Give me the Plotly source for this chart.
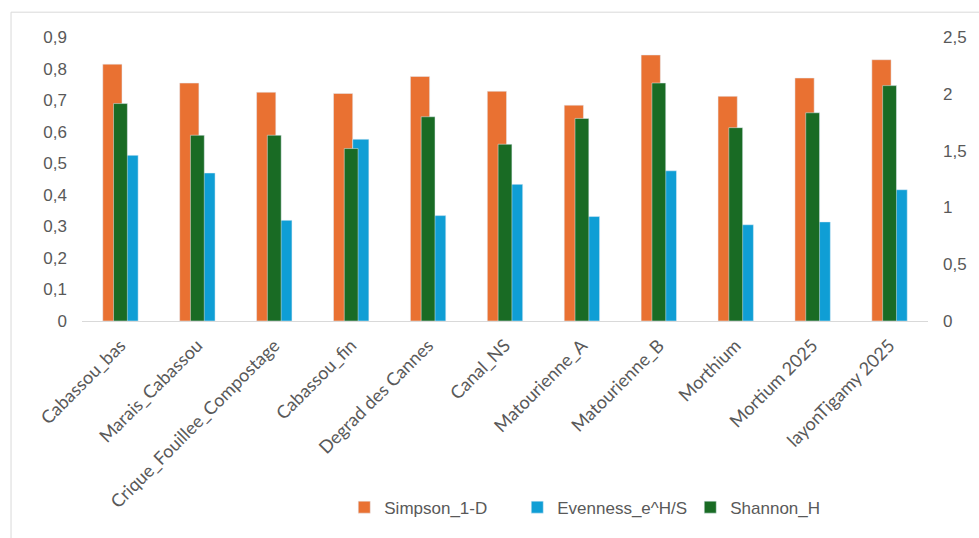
import plotly.graph_objects as go

categories = ["Cabassou_bas", "Marais_Cabassou", "Crique_Fouillee_Compostage", "Cabassou_fin",
              "Degrad des Cannes", "Canal_NS", "Matourienne_A", "Matourienne_B", "Morthium",
              "Mortium 2025", "layonTigamy 2025"]
simpson = [0.814, 0.754, 0.725, 0.721, 0.775, 0.728, 0.684, 0.843, 0.712, 0.770, 0.828]
evenness = [0.525, 0.469, 0.319, 0.576, 0.334, 0.433, 0.331, 0.476, 0.305, 0.314, 0.416]
shannon = [1.914, 1.635, 1.635, 1.518, 1.798, 1.556, 1.783, 2.095, 1.702, 1.833, 2.072]

ORANGE = "#E97132"
BLUE = "#0F9ED5"
GREEN = "#196B24"
GRAY = "#595959"

fig = go.Figure()
fig.add_trace(go.Bar(x=categories, y=simpson, name="Simpson_1-D", marker_color=ORANGE,
                     offset=-0.23, width=0.25, yaxis="y"))
fig.add_trace(go.Bar(x=categories, y=evenness, name="Evenness_e^H/S", marker_color=BLUE,
                     offset=0.02, width=0.21, yaxis="y"))
fig.add_trace(go.Bar(x=categories, y=shannon, name="Shannon_H", marker_color=GREEN,
                     offset=-0.09, width=0.18, yaxis="y2"))

fig.update_layout(
    width=979, height=538,
    margin=dict(l=82, r=51, t=37, b=215),
    paper_bgcolor="white", plot_bgcolor="white",
    separators=", ",
    barmode="overlay",
    font=dict(family="Liberation Sans, Arial, sans-serif", size=16, color=GRAY),
    xaxis=dict(showgrid=False, showline=True, linecolor="#d9d9d9", linewidth=1,
               tickangle=-45, ticks="", ticklabelstandoff=6,
               tickfont=dict(family="Lato, sans-serif", size=18, color=GRAY)),
    yaxis=dict(range=[0, 0.9], dtick=0.1, showgrid=False, zeroline=False, showline=False,
               ticks="", ticklabelstandoff=14, tickfont=dict(size=17, color=GRAY)),
    yaxis2=dict(range=[0, 2.5], dtick=0.5, overlaying="y", side="right", showgrid=False,
                zeroline=False, showline=False, ticks="", ticklabelstandoff=14,
                tickfont=dict(size=17, color=GRAY)),
    legend=dict(orientation="h", x=0.31, xanchor="left", y=-0.657, yanchor="middle",
                font=dict(size=17, color=GRAY), itemwidth=30, traceorder="normal",
                entrywidth=128, entrywidthmode="pixels"),
    showlegend=True,
)

# chart border (light gray frame)
fig.add_shape(type="line", xref="paper", yref="paper", x0=-0.0839, x1=1.2, y0=1.0874, y1=1.0874,
              line=dict(color="#d9d9d9", width=1))
fig.add_shape(type="line", xref="paper", yref="paper", x0=-0.0839, x1=-0.0839, y0=1.0874, y1=-1.0,
              line=dict(color="#d9d9d9", width=1))

fig.write_html("out.html")
